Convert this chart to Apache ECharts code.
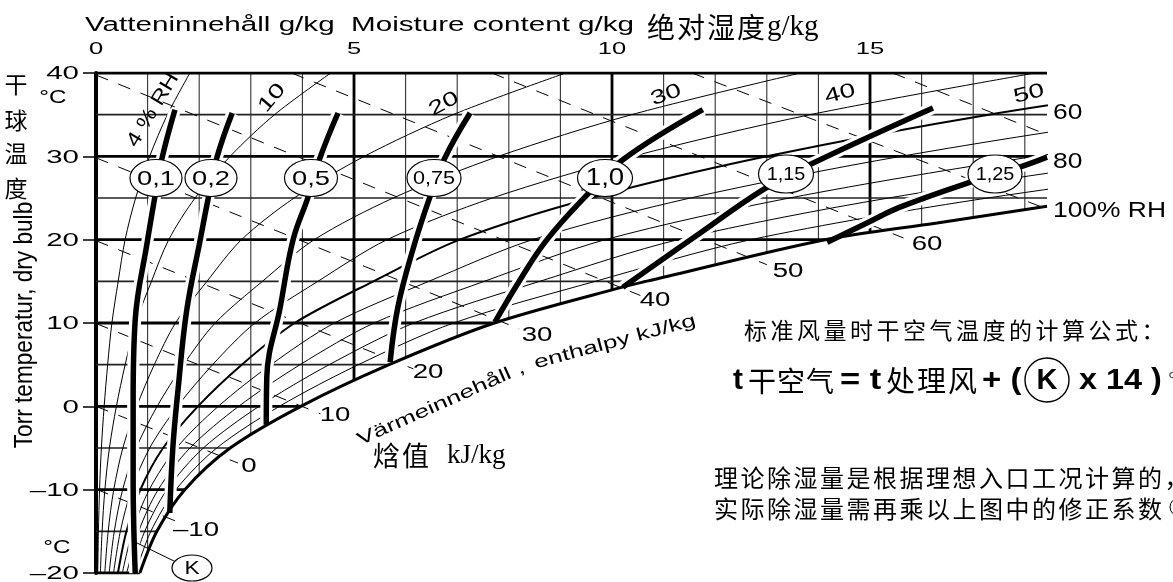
<!DOCTYPE html>
<html>
<head>
<meta charset="utf-8">
<script src="https://cdn.jsdelivr.net/npm/echarts@6/dist/echarts.min.js"></script>
<style>
html,body{margin:0;padding:0;background:#fff;}
#c{width:1173px;height:582px;}
</style>
</head>
<body>
<div id="c"></div>
<script>
// ---------------- data ----------------
const X_MAX = 18.43;                       // right edge of the chart, g/kg
const moistureTicks = [0, 5, 10, 15];
const tempTicks = [40, 30, 20, 10, 0, -10, -20];
const minorMoisture = [1,2,3,4,6,7,8,9,11,12,13,14,16,17,18];
const majorMoisture = [5, 10, 15];
const minorTemp = [35, 25, 15, 5, -5, -15];
const majorTemp = [40, 30, 20, 10, 0, -10];
const bottomSegmentEnd = 0.85;            // -20 °C line stops at the saturation curve

// saturation curve [g/kg, °C]
const saturation = [[0.85,-20],[1.18,-15],[1.72,-10],[2.6,-5],[3.97,0],[5.68,5],[7.72,10],
                    [10.2,14.3],[10.8,15.2],[14.13,20],[16.3,22],[18.43,24]];

// relative humidity lines: moisture (g/kg) at these temperatures
const rhTemps = [-20,-15,-10,-5,0,5,10,15,20,25,30,35,40];
const rh04 = [0.034,0.047,0.069,0.104,0.158,0.226,0.308,0.43,0.564,0.768,1.04,1.384,1.82];
const rh10 = [0.085,0.118,0.172,0.26,0.395,0.565,0.77,1.075,1.41,1.92,2.6,3.46,4.55];
const rh20 = [0.17,0.236,0.344,0.52,0.79,1.13,1.54,2.15,2.82,3.84,5.2,6.92,9.1];
const rh30 = [0.255,0.354,0.516,0.78,1.185,1.695,2.31,3.225,4.23,5.76,7.8,10.38,13.65];
const rh40 = [0.34,0.472,0.688,1.04,1.58,2.26,3.08,4.3,5.64,7.68,10.4,13.84,18.2];
const rh50 = [0.425,0.59,0.86,1.3,1.975,2.825,3.85,5.375,7.05,9.6,13.0,17.3,22.75];
const rh60 = [0.51,0.708,1.032,1.56,2.37,3.39,4.62,6.45,8.46,11.52,15.6,20.76,27.3];
const rh70 = [0.595,0.826,1.204,1.82,2.765,3.955,5.39,7.525,9.87,13.44,18.2,24.22,31.85];
const rh80 = [0.68,0.944,1.376,2.08,3.16,4.52,6.16,8.6,11.28,15.36,20.8,27.68,36.4];
const rh90 = [0.765,1.062,1.548,2.34,3.555,5.085,6.93,9.675,12.69,17.28,23.4,31.14,40.95];
const rhPercents = [4,10,20,30,40,50,60,70,80,90];
const rhLines = [rh04,rh10,rh20,rh30,rh40,rh50,rh60,rh70,rh80,rh90];

// enthalpy lines (kJ/kg): start and end points [g/kg, °C]
const enthalpyValues = [-10,0,10,20,30,40,50,60,70,80];
const enthalpyFrom = [[0,-9.94],[0,0],[0,9.94],[0,19.88],[0,29.82],[0,39.76],[3.79,40],[7.67,40],[11.55,40],[15.44,40]];
const enthalpyTo   = [[1.72,-14.2],[2.75,-6.8],[4.35,-0.9],[6.15,4.5],[8.2,9.3],[10.55,13.3],[13.0,17.0],[15.65,20.2],[18.8,22.8],[18.43,32.6]];
const enthalpyLabels = ['–10','0','10','20','30','40','50','60'];

// correction factor K curves [g/kg, °C]
const k010 = [[1.53,35.6],[1.28,29.8],[1.14,25.1],[0.99,19.6],[0.76,10.4],[0.72,0.8],[0.72,-8.8],[0.76,-20]];
const k020 = [[2.64,35.2],[2.34,29.8],[2.17,24.8],[2.02,20.0],[1.76,11.6],[1.59,2.0],[1.49,-4.9],[1.43,-12.8]];
const k050 = [[4.69,35.2],[4.34,29.8],[4.11,25.1],[3.82,20.0],[3.57,11.9],[3.31,3.5],[3.3,-2.2]];
const k075 = [[7.25,35.2],[6.76,29.8],[6.47,25.1],[6.14,18.8],[5.85,11.9],[5.7,5.3]];
const k100 = [[11.76,35.6],[10.21,29.6],[9.52,25.4],[8.74,20.0],[8.22,15.2],[7.73,10.1]];
const k115 = [[16.22,35.8],[13.9,29.2],[12.93,26.0],[11.71,20.8],[10.21,14.3]];
const k125 = [[18.43,29.9],[17.9,28.7],[16.94,26.9],[15.58,23.9],[14.94,22.0],[14.17,19.7]];
const kCurves = [k010,k020,k050,k075,k100,k115,k125];
const kLabels = ['0,1','0,2','0,5','0,75','1,0','1,15','1,25'];
const rhTopLabels = ['10','20','30','40','50'];
const rhRightLabels = ['60','80','100% RH'];

// ---------------- build ----------------
const S = [];
function line(pts, w, color, z, extra) {
  return Object.assign({
    type: 'line', data: pts, symbol: 'none', showSymbol: false, silent: true,
    animation: false, z: z, emphasis: { disabled: true },
    lineStyle: { width: w, color: color }
  }, extra || {});
}
minorMoisture.forEach(c => S.push(line([[c,-20],[c,40]], 1.1, '#333', 1)));
majorMoisture.forEach(c => S.push(line([[c,-20],[c,40]], 2.8, '#000', 1)));
minorTemp.forEach(t => S.push(line([[0,t],[X_MAX,t]], 1.6, '#222', 1)));
majorTemp.forEach(t => S.push(line([[0,t],[X_MAX,t]], 2.8, '#000', 1)));
S.push(line([[0,-20],[bottomSegmentEnd,-20]], 3, '#000', 1));

rhLines.forEach((arr, i) => {
  const pts = rhTemps.map((t, j) => [arr[j], t]);
  S.push(line(pts, rhPercents[i] === 50 ? 2 : 1, '#000', 2, { smooth: 0.3 }));
});

// white region under the saturation curve
S.push(line(saturation, 0, '#000', 3, { smooth: 0.3, areaStyle: { color: '#fff', opacity: 1, origin: 'start' } }));

enthalpyValues.forEach((h, i) => {
  S.push(line([enthalpyFrom[i], enthalpyTo[i]], 1, '#000', 4, { lineStyle: { width: 1, color: '#000', type: [13, 11] } }));
});

kCurves.forEach(k => S.push(line(k, 12, '#fff', 5, { smooth: 0.4 })));
S.push(line(saturation, 3, '#000', 6, { smooth: 0.3 }));
kCurves.forEach(k => S.push(line(k, 5.5, '#000', 7, { smooth: 0.4 })));

const chart = echarts.init(document.getElementById('c'), null, { renderer: 'canvas' });
chart.setOption({
  animation: false,
  backgroundColor: '#fff',
  grid: { left: 96, top: 73, width: 951, height: 500, containLabel: false },
  xAxis: {
    type: 'value', position: 'top', min: 0, max: X_MAX, interval: 5,
    axisLine: { show: false },
    axisTick: { show: true, length: 8, lineStyle: { color: '#000', width: 1.5 }, customValues: moistureTicks },
    axisLabel: { show: false }, splitLine: { show: false }
  },
  yAxis: {
    type: 'value', min: -20, max: 40, interval: 10,
    axisLine: { show: true, lineStyle: { color: '#000', width: 4 } },
    axisTick: { show: true, length: 13, lineStyle: { color: '#000', width: 1.5 } },
    axisLabel: { show: false }, splitLine: { show: false }
  },
  series: S
});

// ---------------- annotations ----------------
const SANS = "'Liberation Sans', Arial, sans-serif";
const CJK = "'Noto Sans CJK SC', sans-serif";
const SERIF = "'Liberation Serif', 'DejaVu Serif', serif";
function txt(x, y, text, o) {
  o = o || {};
  const align = o.align || 'center', valign = o.valign || 'middle';
  return {
    type: 'text', x: x, y: y, z: 101, silent: true,
    rotation: (o.rot || 0) * Math.PI / 180, scaleX: o.scale || 1, scaleY: o.scaleY || 1,
    style: {
      text: text, x: 0, y: 0,
      font: (o.weight || 'normal') + ' ' + (o.size || 18) + 'px ' + (o.family || SANS),
      fill: o.fill || '#000', align: align, verticalAlign: valign,
      textAlign: align, textVerticalAlign: valign
    }
  };
}
function spaced(x, y, str, pitch, size, opts) {
  opts = opts || {};
  const toks = Array.from(str).map(c => '{c|' + c + '}').join('') + (opts.tail || '');
  const rich = { c: { width: pitch, fontSize: size, fontFamily: CJK, fill: opts.fill || '#000' } };
  if (opts.tailRich) Object.assign(rich, opts.tailRich);
  return {
    type: 'text', x: x, y: y, z: 101, silent: true,
    style: { text: toks, rich: rich, x: 0, y: 0, font: size + 'px ' + CJK, fill: '#000',
             align: 'left', verticalAlign: 'middle', textAlign: 'left', textVerticalAlign: 'middle' }
  };
}
function ellipse(cx, cy, rx, ry, lw) {
  return { type: 'ellipse', z: 100, silent: true, shape: { cx: cx, cy: cy, rx: rx, ry: ry },
           style: { fill: '#fff', stroke: '#000', lineWidth: lw || 1.2 } };
}

const px = v => chart.convertToPixel({ xAxisIndex: 0 }, v);
const py = v => chart.convertToPixel({ yAxisIndex: 0 }, v);
const G = [];

// axis titles
G.push(txt(85, 25, 'Vatteninnehåll g/kg  Moisture content g/kg', { size: 20, scale: 1.48, align: 'left' }));
G.push(spaced(647, 27, '绝对湿度', 30, 28, { tail: '{s|g/kg}', tailRich: { s: { fontSize: 29, fontFamily: SERIF, fill: '#000' } } }));
moistureTicks.forEach(v => G.push(txt(px(v), 49, String(v), { size: 16.5, scale: 1.55 })));
tempTicks.forEach(v => G.push(txt(79, py(v) + 1, v < 0 ? '–' + Math.abs(v) : String(v), { size: 19, scale: 1.55, align: 'right' })));
['干','球','温','度'].forEach((c, i) => G.push(txt(16, [84,120,153,188][i], c, { size: 23, family: CJK })));
G.push(txt(53, 98, '°C', { size: 18, scale: 1.35 }));
G.push(txt(57, 548, '°C', { size: 18, scale: 1.35 }));
G.push(txt(25, 325, 'Torr temperatur, dry bulb', { size: 26, scale: 0.87, rot: 90 }));

// RH labels
G.push(txt(153, 110, '4 % RH', { size: 20, scale: 1.2, rot: 59 }));
const rhTopPos = [[272,98,50],[444,104,28],[666,95,20],[840,94,15],[1029,94,14]];
rhTopLabels.forEach((t, i) => G.push(txt(rhTopPos[i][0], rhTopPos[i][1], t, { size: 20, scale: 1.4, rot: rhTopPos[i][2] })));
const rhRightPos = [[1053,113],[1053,162],[1053,211]];
rhRightLabels.forEach((t, i) => G.push(txt(rhRightPos[i][0], rhRightPos[i][1], t, { size: 22, scale: 1.2, align: 'left' })));

// enthalpy labels
const enthLabelPos = [[196,530],[249,466],[335,415],[428,372],[537,335],[655,300],[788,271],[927,244]];
enthalpyLabels.forEach((t, i) => G.push(txt(enthLabelPos[i][0], enthLabelPos[i][1], t, { size: 20, scale: 1.38 })));
G.push(txt(441, 404, 'Värmeinnehåll ,', { size: 18, scale: 1.45, rot: 24 }));
G.push(txt(615, 342, 'enthalpy kJ/kg', { size: 18, scale: 1.45, rot: 15 }));
G.push(spaced(373, 456, '焓值', 29, 27, { tail: '{g| }{s|kJ/kg}', tailRich: { g: { width: 16 }, s: { fontSize: 27, fontFamily: SERIF, fill: '#000' } } }));

// K factor ellipses
const kPos = [[156,178,26,18.5,21,1.3],[211,178,26,18.5,21,1.3],[311,178,26.5,18.5,21,1.3],
              [434,178,27,18.5,18,1.2],[605,178,27.5,18.5,23,1.2],[786,174,27.5,19,18,1.1],[995,174,27,19,18,1.1]];
kLabels.forEach((t, i) => {
  const p = kPos[i];
  G.push(ellipse(p[0], p[1], p[2], p[3]));
  G.push(txt(p[0], p[1] + 1, t, { size: p[4], scale: p[5] }));
});
G.push({ type: 'line', z: 100, silent: true, shape: { x1: 137, y1: 543, x2: 176, y2: 562 }, style: { stroke: '#000', lineWidth: 1 } });
G.push(ellipse(192, 568, 20, 13, 1.2));
G.push(txt(192, 569, 'K', { size: 19, scale: 1.2 }));

// formula and notes
G.push(spaced(744, 330, '标准风量时干空气温度的计算公式：', 26.5, 23));
G.push(txt(733, 381, 't', { size: 30, weight: 'bold', align: 'left' }));
G.push(spaced(748, 381, '干空气', 29, 28));
G.push(txt(840, 381, '= t', { size: 30, weight: 'bold', align: 'left', scale: 1.15 }));
G.push(spaced(886, 381, '处理风', 31, 29));
G.push(txt(982, 381, '+ (', { size: 30, weight: 'bold', align: 'left', scale: 1.1 }));
G.push({ type: 'circle', z: 100, silent: true, shape: { cx: 1047, cy: 380, r: 22 }, style: { fill: '#fff', stroke: '#000', lineWidth: 1.4 } });
G.push(txt(1047, 381, 'K', { size: 29, weight: 'bold' }));
G.push(txt(1079, 381, 'x 14 )', { size: 30, weight: 'bold', align: 'left', scale: 1.08 }));
G.push(spaced(1168, 381, '℃', 26, 24, { fill: '#555' }));
G.push(spaced(714, 478, '理论除湿量是根据理想入口工况计算的，', 26.5, 24));
G.push(spaced(714, 509, '实际除湿量需再乘以上图中的修正系数', 26.5, 24));
G.push({ type: 'circle', z: 100, silent: true, shape: { cx: 1179, cy: 507, r: 9 }, style: { fill: 'none', stroke: '#000', lineWidth: 1 } });

chart.setOption({ graphic: { elements: G } });
</script>
</body>
</html>
